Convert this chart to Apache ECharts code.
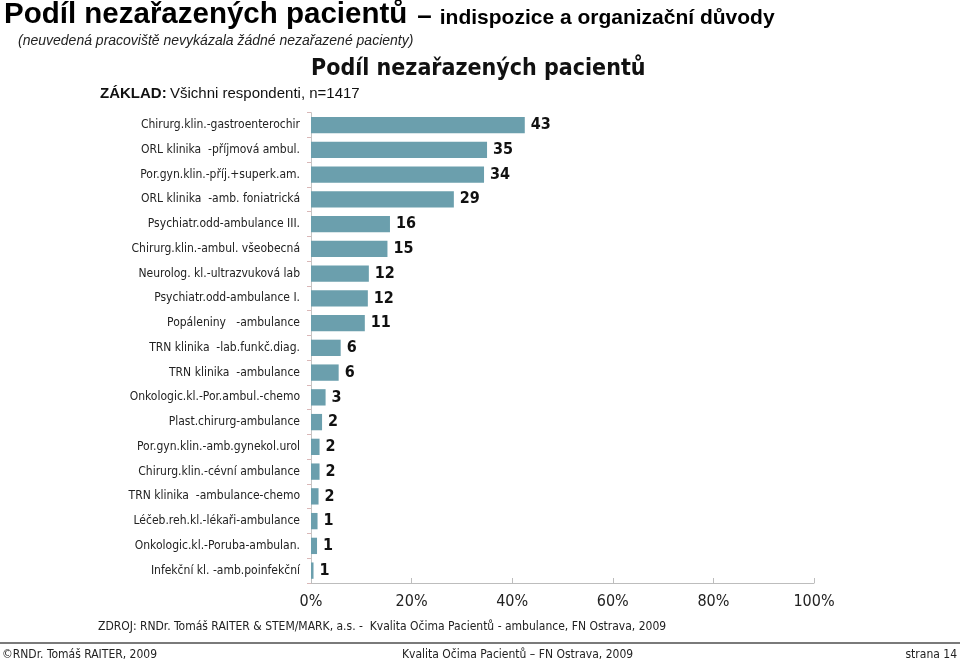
<!DOCTYPE html>
<html><head><meta charset="utf-8">
<script src="https://cdn.jsdelivr.net/npm/echarts@6/dist/echarts.min.js"></script>
<style>html,body{margin:0;padding:0;background:#fff}#c{width:960px;height:663px}</style>
</head><body><div id="c"></div>
<script>
var categories = [
  "Chirurg.klin.-gastroenterochir",
  "ORL klinika  -příjmová ambul.",
  "Por.gyn.klin.-příj.+superk.am.",
  "ORL klinika  -amb. foniatrická",
  "Psychiatr.odd-ambulance III.",
  "Chirurg.klin.-ambul. všeobecná",
  "Neurolog. kl.-ultrazvuková lab",
  "Psychiatr.odd-ambulance I.",
  "Popáleniny   -ambulance",
  "TRN klinika  -lab.funkč.diag.",
  "TRN klinika  -ambulance",
  "Onkologic.kl.-Por.ambul.-chemo",
  "Plast.chirurg-ambulance",
  "Por.gyn.klin.-amb.gynekol.urol",
  "Chirurg.klin.-cévní ambulance",
  "TRN klinika  -ambulance-chemo",
  "Léčeb.reh.kl.-lékaři-ambulance",
  "Onkologic.kl.-Poruba-ambulan.",
  "Infekční kl. -amb.poinfekční"
];
var values = [42.5, 35.0, 34.4, 28.4, 15.7, 15.2, 11.5, 11.3, 10.7, 5.9, 5.5, 2.9, 2.2, 1.7, 1.7, 1.5, 1.3, 1.2, 0.5];
var valueLabels = ["43","35","34","29","16","15","12","12","11","6","6","3","2","2","2","2","1","1","1"];
var xTicks = [0, 20, 40, 60, 80, 100];

var chart = echarts.init(document.getElementById('c'), null, {renderer: 'canvas'});
var narrow = '"Liberation Sans Narrow","Liberation Sans",Arial,sans-serif';
var cond = '"DejaVu Sans Condensed","DejaVu Sans",sans-serif';
var option = {
  animation: false,
  backgroundColor: '#fff',
  grid: {left: 311, right: 146, top: 112.7, bottom: 80},
  xAxis: {
    type: 'value', min: 0, max: 100, interval: 20,
    axisLine: {show: true, lineStyle: {color: '#bdbdbd', width: 1}},
    axisTick: {show: true, inside: true, length: 5, lineStyle: {color: '#bdbdbd'}},
    splitLine: {show: false},
    axisLabel: {margin: 11, color: '#222', fontSize: 16, fontFamily: cond,
      formatter: function(v){ return xTicks.indexOf(v) >= 0 ? v + '%' : ''; }}
  },
  yAxis: {
    type: 'category', data: categories, inverse: true,
    axisLine: {show: true, lineStyle: {color: '#c4c4c4'}},
    axisTick: {show: true, length: 4, lineStyle: {color: '#d9b8b8'}},
    axisLabel: {margin: 11, color: '#222', fontSize: 12, fontFamily: cond}
  },
  series: [{
    type: 'bar', data: values, barCategoryGap: '34%',
    itemStyle: {color: '#6b9fad'},
    label: {show: true, position: 'right', distance: 6, color: '#111', fontWeight: 'bold',
      fontSize: 16, fontFamily: cond,
      formatter: function(p){ return valueLabels[p.dataIndex]; }}
  }],
  graphic: [
    {type: 'text', left: 4, top: 0, style: {
      text: '{a|Podíl nezařazených pacientů}{d|–}{b|indispozice a organizační důvody}',
      rich: {
        a: {fontSize: 29.5, fontWeight: 'bold', fontFamily: narrow, fill: '#000'},
        d: {fontSize: 26, fontWeight: 'bold', fontFamily: narrow, fill: '#000', padding: [3,8,0,10]},
        b: {fontSize: 21, fontWeight: 'bold', fontFamily: narrow, fill: '#000', padding: [6,0,0,0]}
      }}},
    {type: 'text', left: 18, top: 34, style: {text: '(neuvedená pracoviště nevykázala žádné nezařazené pacienty)',
      fontSize: 14, fontStyle: 'italic', fontFamily: narrow, fill: '#222'}},
    {type: 'text', left: 311, top: 58, style: {text: 'Podíl nezařazených pacientů',
      fontSize: 23, fontWeight: 'bold', fontFamily: cond, fill: '#111'}},
    {type: 'text', left: 100, top: 86, style: {
      text: '{a|ZÁKLAD:} {b|Všichni respondenti, n=1417}',
      rich: {
        a: {fontSize: 15, fontWeight: 'bold', fontFamily: narrow, fill: '#111'},
        b: {fontSize: 15, fontFamily: narrow, fill: '#111'}
      }}},
    {type: 'text', left: 98, top: 621, style: {text: 'ZDROJ: RNDr. Tomáš RAITER & STEM/MARK, a.s. -  Kvalita Očima Pacientů - ambulance, FN Ostrava, 2009',
      fontSize: 12, fontFamily: cond, fill: '#222'}},
    {type: 'rect', shape: {x: 0, y: 642, width: 960, height: 2}, style: {fill: '#7a7a7a'}},
    {type: 'text', left: 2, top: 649, style: {text: '©RNDr. Tomáš RAITER, 2009', fontSize: 12, fontFamily: cond, fill: '#222'}},
    {type: 'text', left: 402, top: 649, style: {text: 'Kvalita Očima Pacientů – FN Ostrava, 2009', fontSize: 12, fontFamily: cond, fill: '#222'}},
    {type: 'text', right: 3, top: 649, style: {text: 'strana 14', fontSize: 12, fontFamily: cond, fill: '#222'}}
  ]
};
chart.setOption(option);
</script></body></html>
